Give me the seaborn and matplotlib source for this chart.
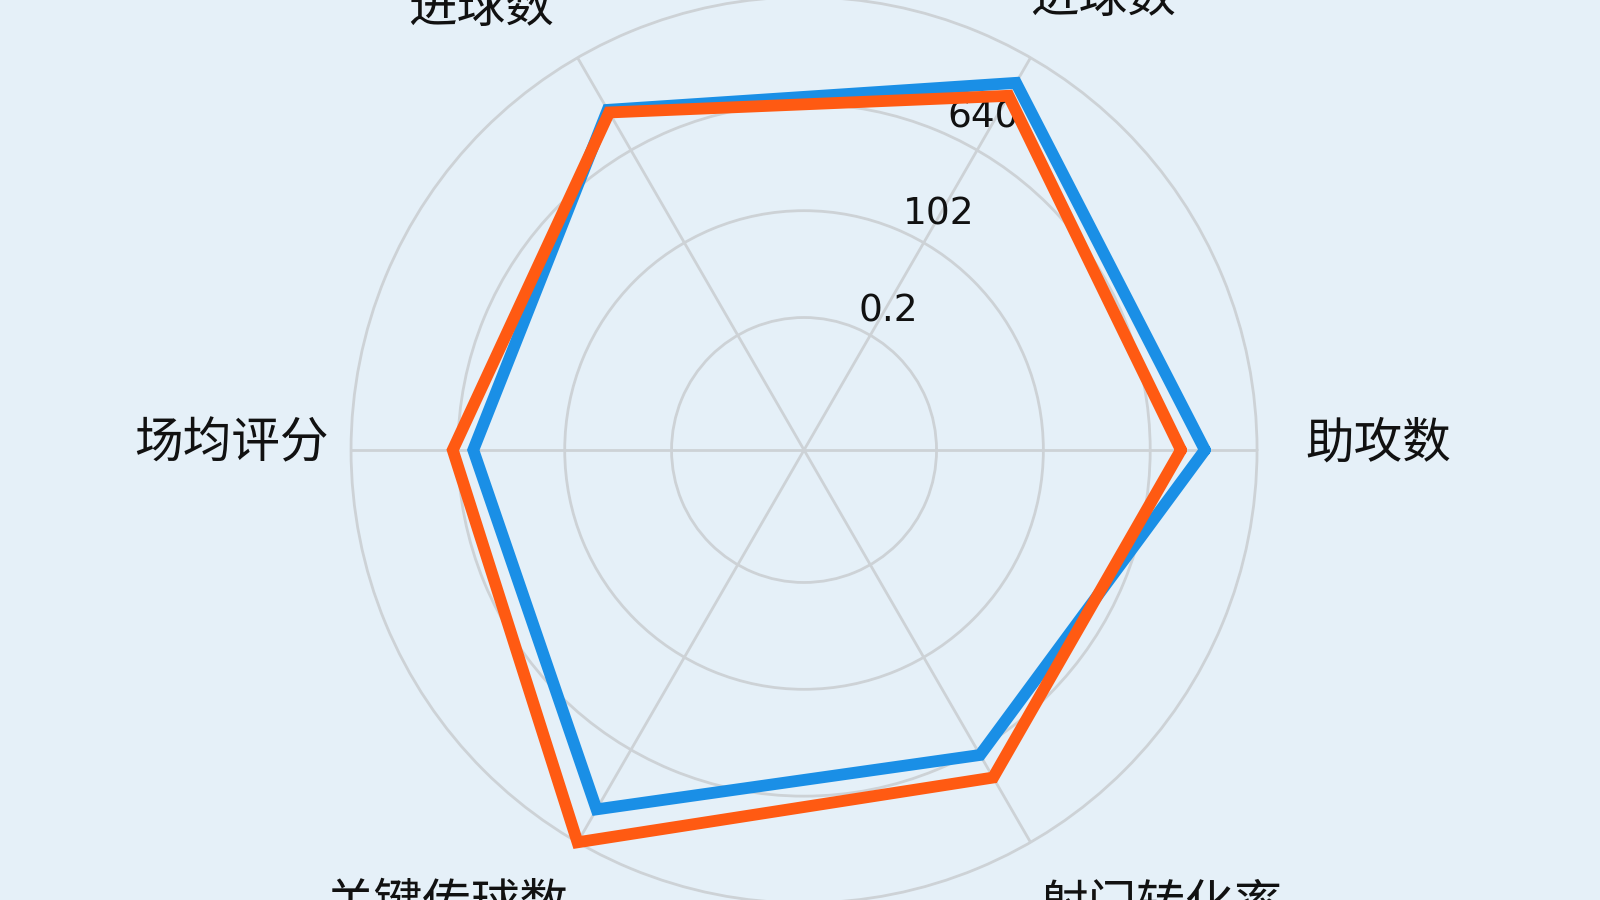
import matplotlib
matplotlib.use("Agg")
import matplotlib.pyplot as plt
import numpy as np
import seaborn as sns

# data
categories = ["助攻数", "进球数", "进球数", "场均评分", "关键传球数", "射门转化率"]
player_a = [87.8, 93.2, 85.9, 71.4, 91.1, 76.4]   # blue
player_b = [82.2, 89.7, 85.2, 76.2, 100.0, 82.5]  # orange
r_ticks = [25, 50, 75, 100]
r_tick_labels = ["0.2", "102", "640", ""]

# layout of the category labels (screen angle in degrees, radius as fraction of outer ring)
label_angle = [0.6, 56.5, 126.2, 179.4, 231.9, 308.1]
label_frac = [1.267, 1.196, 1.208, 1.263, 1.278, 1.278]

bg = "#e5f0f8"
blue = "#1a8fe6"
orange = "#ff5a12"
grid_color = "#cdd2d6"

sns.set_theme(style="white")
plt.rcParams["font.family"] = ["DejaVu Sans", "Noto Sans CJK SC"]

fig = plt.figure(figsize=(16, 9), dpi=100, facecolor=bg)
ax = fig.add_axes([0.2194, -0.00333, 0.56625, 1.00667], projection="polar")
ax.set_facecolor(bg)

angles = np.deg2rad(np.arange(len(categories)) * 60.0)
closed = np.concatenate([angles, angles[:1]])

rmin, rmax = -6, 100
ax.set_ylim(rmin, rmax)
ax.set_thetagrids(np.rad2deg(angles), [""] * len(categories))
ax.set_rgrids(r_ticks, [""] * len(r_ticks))
ax.grid(True, color=grid_color, linewidth=2)
ax.spines["polar"].set_visible(False)
ax.tick_params(axis="both", length=0)
for gl in ax.yaxis.get_gridlines():
    gl.set_clip_on(False)

ax.plot(closed, player_a + player_a[:1], color=blue, linewidth=8.5,
        solid_joinstyle="miter", clip_on=False, zorder=3)
ax.plot(closed, player_b + player_b[:1], color=orange, linewidth=8.5,
        solid_joinstyle="miter", clip_on=False, zorder=4)

# radial tick labels
for val, txt in zip(r_ticks, r_tick_labels):
    if txt:
        ax.text(np.deg2rad(65.5), val, txt, fontsize=27, color="#111111",
                ha="left", va="bottom", zorder=2, family="DejaVu Sans")

# category labels
for name, ang, frac in zip(categories, label_angle, label_frac):
    ax.text(np.deg2rad(ang), rmin + frac * (rmax - rmin), name, fontsize=35,
            color="#111111", ha="center", va="center", clip_on=False,
            family=["Noto Sans CJK SC", "DejaVu Sans"])

fig.savefig("out.png", dpi=100, facecolor=bg)
